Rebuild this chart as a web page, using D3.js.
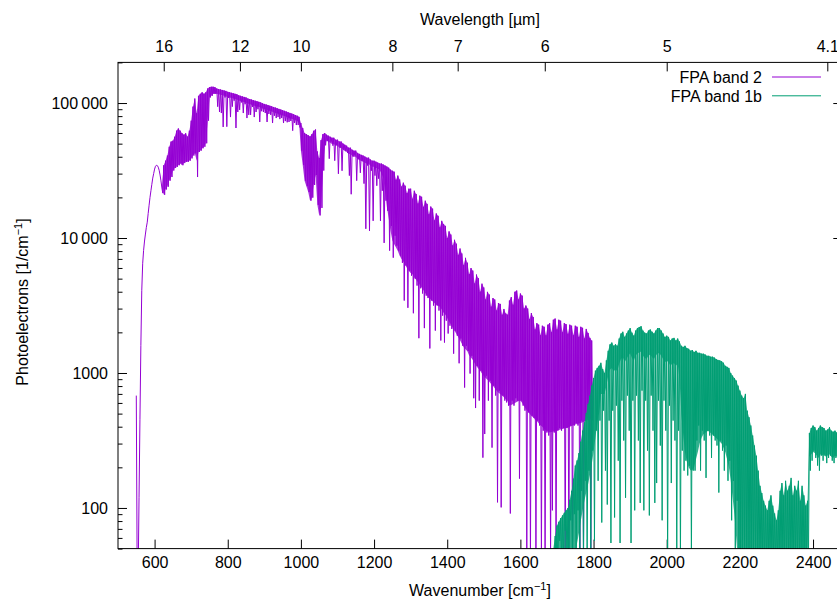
<!DOCTYPE html>
<html><head><meta charset="utf-8">
<script src="https://cdn.jsdelivr.net/npm/d3@7"></script>
<style>
body{margin:0;background:#fff;}
svg text{font-family:"Liberation Sans",Arial,Helvetica,sans-serif;font-size:16px;fill:#000;}
</style></head><body>
<svg id="chart" width="837" height="600"></svg>
<script>
// ---------------- data ----------------
const xTickValues = [600, 800, 1000, 1200, 1400, 1600, 1800, 2000, 2200, 2400];
const yTickValues = [100, 1000, 10000, 100000];
const yTickLabels = ["100", "1000", "10\u2009000", "100\u2009000"];
const wavelengthTicks = [16, 12, 10, 8, 7, 6, 5, 4.1];
const wavelengthLabels = ["16", "12", "10", "8", "7", "6", "5", "4.1"];
const seriesNames = ["FPA band 2", "FPA band 1b"];
const seriesColors = ["#9400d3", "#009e73"];

// FPA band 2: sampled every 5 cm-1 from 550.
// Peak = line tops, Floor = bottom of the densely filled band, Dip = depth of the line half a step later
const band2Start = 550, band2Step = 5;
const band2Peak = [
 680, 30, 450, 4100, 8100, 10700, 13100, 17500, 22400, 27800,
 32400, 34600, 33500, 29300, 23500, 34600, 37400, 40800, 47400, 51800,
 52600, 56300, 62400, 64800, 62400, 59700, 58300, 59700, 56300, 62400,
 74000, 94100, 108000, 84000, 113000, 117000, 120000, 117000, 120000, 128000,
 131000, 132000, 132000, 131000, 128000, 127000, 126000, 125000, 124000, 123000,
 121000, 120000, 119000, 118000, 117000, 116000, 114000, 113000, 112000, 111000,
 110000, 108000, 107000, 106000, 105000, 104000, 103000, 102000, 101000, 99500,
 98500, 97500, 96500, 95500, 94500, 93500, 92500, 91500, 90500, 89500,
 88500, 87500, 86500, 85500, 84500, 83500, 82500, 81500, 80500, 79000,
 71100, 65300, 59900, 58800, 57700, 56600, 58800, 62300, 63700, 43800,
 39100, 53100, 58800, 59900, 58300, 57300, 56300, 55300, 55300, 53500,
 53500, 51800, 51800, 50100, 49100, 48300, 46700, 46700, 45100, 44400,
 44400, 42700, 42000, 41300, 40800, 40100, 39400, 39400, 38100, 37400,
 37400, 36800, 36200, 35600, 35600, 35000, 34400, 33800, 33200, 32100,
 31500, 31000, 27000, 29000, 27100, 24000, 25700, 24400, 21500, 23200,
 23200, 19500, 22400, 21200, 18000, 20600, 20200, 17000, 18900, 17900,
 15000, 17100, 16500, 13500, 15200, 14600, 12000, 13400, 12700, 12300,
 10000, 11200, 10600, 8800, 9700, 9070, 7500, 8360, 7680, 6300,
 7130, 6560, 5400, 5990, 5730, 4600, 5360, 5040, 4000, 4590,
 4300, 3500, 3990, 3810, 3100, 3590, 3500, 2900, 3300, 3250,
 2700, 2980, 2760, 2700, 3440, 3650, 3200, 4000, 4080, 3500,
 3880, 3740, 3000, 3160, 3000, 2500, 2780, 2600, 2100, 2340,
 2280, 1900, 2240, 2200, 1900, 2280, 2340, 2000, 2480, 2530,
 2100, 2480, 2440, 2000, 2340, 2300, 1950, 2280, 2240, 1900,
 2240, 2200, 1850, 2200, 2160, 1800, 2120, 1980, 1820, 1740
];
const band2Floor = [
 680, 30, 450, 4100, 8100, 10700, 13100, 17500, 22400, 27800,
 32400, 34600, 33500, 29300, 23500, 20900, 22900, 24000, 26600, 28300,
 31600, 33000, 33700, 34600, 35700, 34600, 35900, 36700, 36700, 37400,
 38900, 40800, 42400, 37400, 43400, 44400, 46200, 47400, 50300, 74000,
 110000, 113000, 117000, 117000, 117000, 116000, 115000, 114000, 113000, 112000,
 111000, 110000, 109000, 108000, 107000, 106000, 104500, 103500, 102500, 101500,
 100500, 99000, 98000, 97000, 96000, 95000, 94500, 93500, 92500, 91000,
 90000, 89500, 88500, 87500, 86500, 85500, 84500, 84000, 83000, 82000,
 81000, 80000, 79000, 78000, 77500, 76500, 75500, 74500, 73500, 72500,
 44400, 34700, 26600, 24200, 21900, 18900, 19900, 24700, 29300, 17600,
 14700, 16700, 31600, 48600, 52500, 51600, 50700, 49800, 49800, 48200,
 48200, 46600, 46600, 45100, 44200, 43500, 42000, 42000, 40600, 40000,
 40000, 38400, 37800, 37200, 36700, 36100, 35500, 35500, 34300, 33700,
 33700, 33100, 32600, 32000, 30000, 28000, 22000, 17000, 14000, 11300,
 9600, 9000, 8500, 8000, 7400, 7000, 6700, 6300, 6000, 5700,
 5500, 5400, 5100, 4900, 4700, 4500, 4300, 4100, 3900, 3750,
 3600, 3500, 3400, 3300, 3200, 3150, 3100, 2950, 2800, 2700,
 2550, 2400, 2300, 2150, 2050, 1950, 1850, 1750, 1650, 1550,
 1500, 1450, 1350, 1300, 1250, 1180, 1120, 1080, 1040, 990,
 950, 920, 890, 860, 830, 806, 770, 740, 715, 700,
 680, 660, 640, 620, 575, 580, 590, 600, 610, 620,
 624, 600, 570, 540, 520, 500, 480, 470, 450, 440,
 425, 410, 400, 385, 375, 368, 362, 365, 368, 372,
 375, 378, 382, 385, 388, 391, 395, 400, 405, 410,
 415, 418, 422, 426, 432, 438, 445, 450, 455, 460
];
const band2Dip = [
 30, 120, 1600, 6500, 9500, 12000, 15200, 20000, 25000, 30000,
 34000, 34400, 31800, 26500, 21500, 20900, 22900, 24000, 26600, 28300,
 31600, 33000, 33700, 34600, 35700, 34600, 35900, 36700, 36700, 37400,
 38900, 40800, 42400, 28300, 43400, 44400, 46200, 47400, 50300, 74000,
 110000, 113000, 117000, 117000, 94000, 85800, 84300, 66500, 110000, 66800,
 109000, 78700, 94000, 104000, 65300, 85800, 89000, 101000, 84300, 98000,
 77400, 81700, 81700, 93500, 78700, 85800, 90000, 72400, 87000, 85800,
 84300, 72400, 83000, 81700, 71100, 80400, 77400, 78700, 76000, 77400,
 71100, 73500, 72000, 72400, 73600, 62400, 71100, 68700, 68700, 66000,
 44400, 34700, 26600, 24200, 21900, 18900, 19900, 24700, 29300, 17600,
 14700, 16700, 31600, 48600, 52600, 38700, 51800, 48300, 37400, 49100,
 29900, 46700, 31500, 45100, 44000, 42700, 29000, 21100, 40100, 41000,
 26600, 38700, 30400, 37400, 25300, 11700, 34400, 11300, 31500, 13400,
 29000, 24400, 27500, 13400, 22400, 9200, 18900, 15900, 8060, 12300,
 7150, 10400, 8780, 8060, 7400, 6550, 3440, 6240, 3040, 5730,
 5260, 2770, 5000, 4440, 1810, 4240, 3880, 2150, 3740, 3590,
 1520, 3440, 3160, 2060, 3160, 2900, 1740, 2660, 1680, 2440,
 1960, 2240, 2120, 1390, 2060, 1890, 1180, 1800, 1590, 780,
 1590, 1460, 990, 1340, 650, 550, 1130, 624, 1040, 236,
 353, 956, 624, 878, 280, 806, 680, 110, 740, 101,
 680, 624, 605, 573, 91, 624, 573, 650, 624, 165,
 624, 573, 526, 40, 510, 40, 483, 464, 40, 444,
 408, 40, 374, 40, 362, 344, 40, 96, 362, 40,
 374, 391, 374, 391, 40, 391, 40, 408, 40, 408,
 426, 408, 40, 444, 40, 444, 464, 444, 40, 444
];

// FPA band 1b: sampled every 5 cm-1 from 1685
const band1bStart = 1685, band1bStep = 5;
const band1bPeak = [
 40, 50, 62, 74, 79, 84, 88, 92, 96, 100,
 115, 134, 165, 206, 225, 255, 310, 374, 430, 505,
 590, 680, 806, 918, 1040, 1090, 1130, 1190, 1070, 1000,
 1240, 1460, 1630, 1680, 1590, 1630, 1590, 1800, 1960, 2020,
 1850, 1960, 2060, 2150, 1990, 1890, 2060, 2150, 2190, 2220,
 2060, 1990, 1960, 2060, 2100, 2020, 1960, 2060, 2150, 2150,
 2060, 1960, 1850, 1890, 1850, 1740, 1800, 1820, 1740, 1800,
 1710, 1590, 1560, 1590, 1530, 1510, 1460, 1480, 1430, 1460,
 1410, 1410, 1390, 1390, 1370, 1340, 1340, 1320, 1320, 1300,
 1270, 1250, 1240, 1220, 1190, 1130, 1110, 1090, 1000, 956,
 918, 878, 806, 740, 680, 650, 700, 526, 470, 408,
 344, 290, 244, 189, 146, 129, 113, 104, 96, 113,
 124, 104, 91, 81, 96, 134, 153, 124, 159, 134,
 146, 167, 124, 146, 134, 159, 113, 146, 124, 104,
 113, 359, 391, 408, 397, 374, 391, 408, 397, 391,
 374, 381, 397, 374, 367, 374, 362, 367
];
const band1bFloor = [
 40, 40, 40, 40, 40, 40, 40, 40, 40, 40,
 40, 40, 40, 45, 55, 65, 80, 95, 113, 130,
 150, 175, 210, 260, 330, 420, 500, 700, 700, 700,
 800, 950, 1060, 1090, 1030, 1060, 1030, 1170, 1270, 1310,
 1200, 1270, 1340, 1400, 1290, 1230, 1340, 1400, 1420, 1440,
 1340, 1290, 1270, 1340, 1370, 1310, 1270, 1340, 1400, 1400,
 1340, 1270, 1200, 1230, 1200, 1130, 1170, 1180, 1130, 1170,
 900, 500, 350, 260, 220, 200, 190, 190, 200, 230,
 260, 300, 330, 350, 360, 370, 370, 360, 350, 340,
 330, 320, 310, 300, 280, 260, 230, 200, 160, 120,
 90, 60, 40, 40, 40, 40, 40, 40, 40, 40,
 40, 40, 40, 40, 40, 40, 40, 40, 40, 40,
 40, 40, 40, 40, 40, 40, 40, 40, 40, 40,
 40, 40, 40, 40, 40, 40, 40, 40, 40, 40,
 40, 240, 250, 260, 255, 245, 235, 250, 245, 250,
 240, 245, 250, 240, 235, 245, 240, 245
];
const band1bDip = [
 40, 40, 40, 40, 57, 40, 40, 68, 40, 40,
 81, 40, 90, 40, 96, 40, 134, 40, 159, 40,
 189, 40, 266, 57, 374, 159, 444, 78, 526, 189,
 106, 444, 55, 526, 85, 573, 224, 55, 624, 316,
 119, 680, 374, 55, 624, 96, 680, 316, 109, 740,
 96, 624, 266, 88, 680, 374, 109, 153, 624, 290,
 81, 624, 374, 40, 573, 153, 444, 316, 40, 374,
 40, 266, 189, 224, 174, 206, 40, 189, 189, 316,
 408, 189, 374, 316, 167, 374, 344, 235, 344, 316,
 290, 130, 316, 266, 189, 290, 159, 224, 81, 159,
 40, 113, 40, 40, 40, 40, 40, 40, 40, 40,
 40, 40, 40, 40, 40, 40, 40, 40, 40, 40,
 40, 40, 40, 40, 40, 40, 40, 40, 40, 40,
 40, 40, 40, 40, 40, 40, 40, 40, 40, 40,
 40, 189, 224, 266, 235, 206, 189, 244, 224, 244,
 215, 235, 244, 224, 215, 235, 224, 235
];

// ---------------- layout ----------------
const X0 = 118, X1 = 842.3, Y0 = 62.4, Y1 = 548.6;
const svg = d3.select("#chart");
const x = d3.scaleLinear().domain([500, 2480]).range([X0, X1]);
const y = d3.scaleLog().domain([50, 200000]).range([Y1, Y0]);
const yc = v => y(Math.max(v, 20));

const minorY = y.ticks().filter(v => !yTickValues.includes(v));

function styleAxis(g) {
  g.select(".domain").remove();
  g.selectAll(".tick line").attr("stroke", "#000").attr("stroke-width", 1);
  g.selectAll("text").attr("fill", "#000");
}

svg.append("g").attr("transform", `translate(0,${Y1})`)
  .call(d3.axisBottom(x).tickValues(xTickValues).tickSize(-9).tickPadding(8).tickFormat(d3.format("d")))
  .call(styleAxis);

svg.append("g").attr("transform", `translate(0,${Y0})`)
  .call(d3.axisTop(x).tickValues(wavelengthTicks.map(l => 1e4 / l)).tickSize(-9).tickPadding(10)
    .tickFormat((d, i) => wavelengthLabels[i]))
  .call(styleAxis);

svg.append("g").attr("transform", `translate(${X0},0)`)
  .call(d3.axisLeft(y).tickValues(yTickValues).tickSize(-9).tickPadding(10).tickFormat((d, i) => yTickLabels[i]))
  .call(styleAxis);
svg.append("g").attr("transform", `translate(${X0},0)`)
  .call(d3.axisLeft(y).tickValues(minorY).tickSize(-4.5).tickFormat(""))
  .call(styleAxis);
svg.append("g").attr("transform", `translate(${X1},0)`)
  .call(d3.axisRight(y).tickValues(yTickValues).tickSize(-9).tickFormat(""))
  .call(styleAxis);
svg.append("g").attr("transform", `translate(${X1},0)`)
  .call(d3.axisRight(y).tickValues(minorY).tickSize(-4.5).tickFormat(""))
  .call(styleAxis);

// ---------------- series ----------------
svg.append("clipPath").attr("id", "plotclip").append("rect")
  .attr("x", X0).attr("y", Y0).attr("width", X1 - X0).attr("height", Y1 - Y0);

function samples(start, step, peaks, floors, dips) {
  return peaks.map((p, i) => ({ w: start + i * step, half: step / 2, peak: p, floor: floors[i], dip: dips[i] }));
}
function zigzag(rows) {
  const pts = [];
  rows.forEach(r => { pts.push([r.w, r.peak]); pts.push([r.w + r.half, r.dip]); });
  return pts;
}
const line = d3.line().x(d => x(d[0])).y(d => yc(d[1]));
const band = d3.area().x(d => x(d.w)).y0(d => yc(d.floor)).y1(d => yc(d.peak));
const plot = svg.append("g").attr("clip-path", "url(#plotclip)");

const series = [
  samples(band2Start, band2Step, band2Peak, band2Floor, band2Dip),
  samples(band1bStart, band1bStep, band1bPeak, band1bFloor, band1bDip)
];
series.forEach((rows, k) => {
  plot.append("path").attr("d", band(rows)).attr("fill", seriesColors[k]).attr("fill-opacity", 0.8).attr("stroke", "none");
  plot.append("path").attr("d", line(zigzag(rows)))
    .attr("fill", "none").attr("stroke", seriesColors[k]).attr("stroke-width", 1);
});

// border
svg.append("rect").attr("x", X0).attr("y", Y0).attr("width", X1 - X0).attr("height", Y1 - Y0)
  .attr("fill", "none").attr("stroke", "#000").attr("stroke-width", 1);

// ---------------- legend ----------------
seriesNames.forEach((name, i) => {
  const cy = 77 + i * 18.8;
  svg.append("text").attr("x", 762).attr("y", cy + 5.8).attr("text-anchor", "end").text(name);
  svg.append("line").attr("x1", 772).attr("x2", 821).attr("y1", cy).attr("y2", cy)
    .attr("stroke", seriesColors[i]).attr("stroke-width", 1);
});

// ---------------- titles ----------------
const xt = svg.append("text").attr("x", 480).attr("y", 596).attr("text-anchor", "middle");
xt.append("tspan").text("Wavenumber [cm");
xt.append("tspan").attr("dy", -6).style("font-size", "11px").text("\u22121");
xt.append("tspan").attr("dy", 6).text("]");

svg.append("text").attr("x", 480).attr("y", 25).attr("text-anchor", "middle").text("Wavelength [\u00b5m]");

const yt = svg.append("text").attr("transform", "translate(27.5,302) rotate(-90)").attr("text-anchor", "middle");
yt.append("tspan").text("Photoelectrons [1/cm");
yt.append("tspan").attr("dy", -6).style("font-size", "11px").text("\u22121");
yt.append("tspan").attr("dy", 6).text("]");
</script>
</body></html>
